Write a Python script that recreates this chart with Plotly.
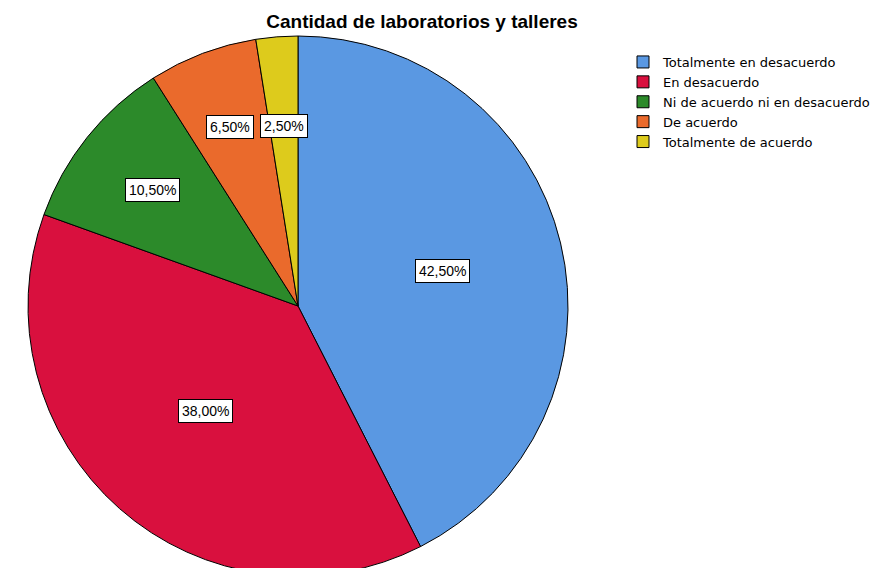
import math
import plotly.graph_objects as go

categories = ["Totalmente en desacuerdo", "En desacuerdo", "Ni de acuerdo ni en desacuerdo",
              "De acuerdo", "Totalmente de acuerdo"]
values = [42.5, 38.0, 10.5, 6.5, 2.5]
value_labels = ["42,50%", "38,00%", "10,50%", "6,50%", "2,50%"]
colors = ["#5A98E2", "#D9103E", "#2C8A2A", "#EA6A2C", "#DDCB1C"]

W, H = 889, 568
# pie placement (pixels, figure coordinates)
r_px = 270
cx_px = 290
top_px = 28
cy_px = top_px + r_px
label_radius = [0.55, 0.52, 0.69, 0.71, 0.67]

dom_x = [(cx_px - r_px) / W, (cx_px + r_px) / W]
dom_y = [max(0.0, 1 - (cy_px + r_px) / H), 1 - top_px / H]

fig = go.Figure(go.Pie(
    labels=categories, values=values, sort=False, direction="clockwise", rotation=0,
    marker=dict(colors=colors, line=dict(color="black", width=1)),
    textinfo="none", hoverinfo="label+percent",
    domain=dict(x=dom_x, y=dom_y),
))

total = sum(values)
cum = 0.0
for v, lab, k in zip(values, value_labels, label_radius):
    mid = (cum + v / 2) / total * 2 * math.pi
    cum += v
    px = cx_px + k * r_px * math.sin(mid)
    py = cy_px - k * r_px * math.cos(mid)
    fig.add_annotation(x=px / W, y=1 - py / H, xref="paper", yref="paper",
                       xanchor="center", yanchor="middle",
                       text=lab, showarrow=False,
                       font=dict(family="Liberation Sans, Arial", size=14, color="black"),
                       bgcolor="white", bordercolor="black", borderwidth=1, borderpad=3)

fig.update_layout(
    width=W, height=H,
    margin=dict(l=0, r=0, t=0, b=0),
    paper_bgcolor="white", plot_bgcolor="white",
    title=dict(text="<b>Cantidad de laboratorios y talleres</b>", x=414 / W, xanchor="center",
               y=1 - 13 / H, yanchor="middle",
               font=dict(family="Liberation Sans, Arial", size=19, color="black")),
    legend=dict(x=615 / W, y=1 - 39 / H, xanchor="left", yanchor="top",
                font=dict(family="DejaVu Sans", size=13, color="black"),
                bgcolor="rgba(0,0,0,0)", tracegroupgap=0),
    showlegend=True,
)

fig.write_html("out.html")
